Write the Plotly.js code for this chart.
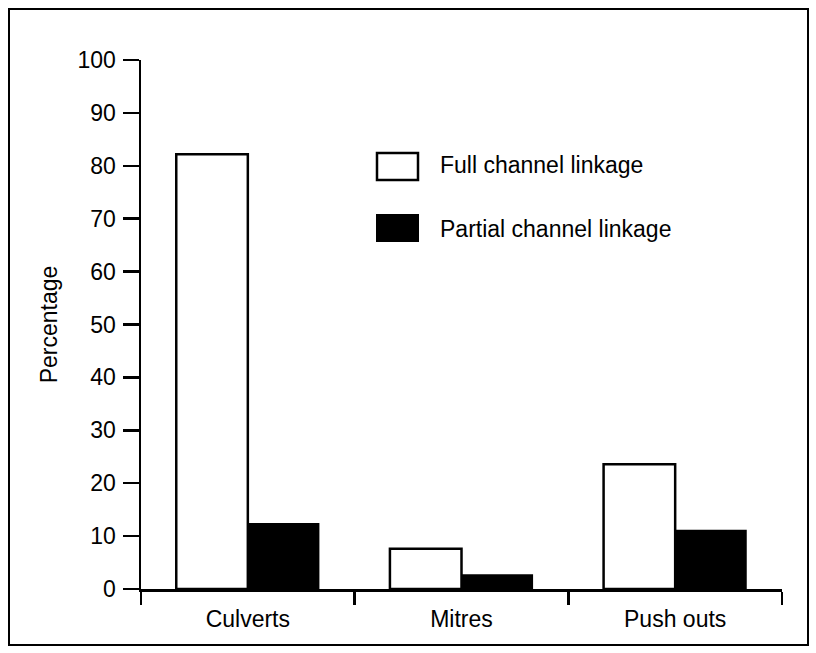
<!DOCTYPE html>
<html>
<head>
<meta charset="utf-8">
<script src="https://cdn.plot.ly/plotly-3.0.1.min.js"></script>
<style>html,body{margin:0;padding:0;background:#fff;}#chart{width:816px;height:653px;}</style>
</head>
<body>
<div id="chart"></div>
<script>
const categories = ["Culverts", "Mitres", "Push outs"];
const seriesNames = ["Full channel linkage", "Partial channel linkage"];
const fullValues = [82.2, 7.6, 23.6];
const partialValues = [12.5, 2.8, 11.2];
const yTickVals = [0, 10, 20, 30, 40, 50, 60, 70, 80, 90, 100];

const W = 816, H = 653;
const M = {l: 141, r: 34, t: 60, b: 64};
const PW = W - M.l - M.r, PH = H - M.t - M.b;
const px = x => (x - M.l) / PW;
const py = y => (H - M.b - y) / PH;
const FONT = "Liberation Sans, Arial, sans-serif";

const traces = [
  {type: "bar", name: seriesNames[0], x: categories, y: fullValues,
   marker: {color: "#ffffff", line: {color: "#000000", width: 2.5}}},
  {type: "bar", name: seriesNames[1], x: categories, y: partialValues,
   marker: {color: "#000000", line: {color: "#000000", width: 0}}}
];

const layout = {
  width: W, height: H,
  margin: M,
  paper_bgcolor: "#ffffff", plot_bgcolor: "#ffffff",
  showlegend: false,
  barmode: "group", bargap: 0.33, bargroupgap: 0,
  font: {family: FONT, size: 23, color: "#000000"},
  xaxis: {
    type: "category", range: [-0.5, 2.5], tickson: "boundaries",
    ticks: "outside", ticklen: 13, tickwidth: 2.5, tickcolor: "#000",
    showline: true, linewidth: 2.5, linecolor: "#000",
    showgrid: false, zeroline: false, fixedrange: true,
    ticklabelstandoff: 8,
    tickfont: {family: FONT, size: 23, color: "#000"}
  },
  yaxis: {
    range: [0, 100], tickvals: yTickVals, ticktext: yTickVals.map(String),
    ticks: "outside", ticklen: 16, tickwidth: 2.5, tickcolor: "#000",
    showline: true, linewidth: 2.5, linecolor: "#000",
    showgrid: false, zeroline: false, fixedrange: true,
    ticklabelstandoff: 2,
    tickfont: {family: FONT, size: 23, color: "#000"},
    title: {text: "Percentage", standoff: 14, font: {family: FONT, size: 23, color: "#000"}}
  },
  shapes: [
    {type: "rect", xref: "paper", yref: "paper", x0: px(9), x1: px(808), y0: py(9), y1: py(645),
     line: {color: "#000", width: 2}, fillcolor: "rgba(0,0,0,0)", layer: "below"},
    {type: "rect", xref: "paper", yref: "paper", x0: px(377), x1: px(418), y0: py(153), y1: py(180),
     line: {color: "#000", width: 2.5}, fillcolor: "#ffffff"},
    {type: "rect", xref: "paper", yref: "paper", x0: px(376), x1: px(419), y0: py(214), y1: py(242),
     line: {color: "#000", width: 0}, fillcolor: "#000000"}
  ],
  annotations: [
    {xref: "paper", yref: "paper", x: px(438), y: py(165), xanchor: "left", yanchor: "middle",
     text: seriesNames[0], showarrow: false, font: {family: FONT, size: 23, color: "#000"}},
    {xref: "paper", yref: "paper", x: px(438), y: py(229), xanchor: "left", yanchor: "middle",
     text: seriesNames[1], showarrow: false, font: {family: FONT, size: 23, color: "#000"}}
  ]
};

Plotly.newPlot("chart", traces, layout, {displayModeBar: false, staticPlot: true});
</script>
</body>
</html>
